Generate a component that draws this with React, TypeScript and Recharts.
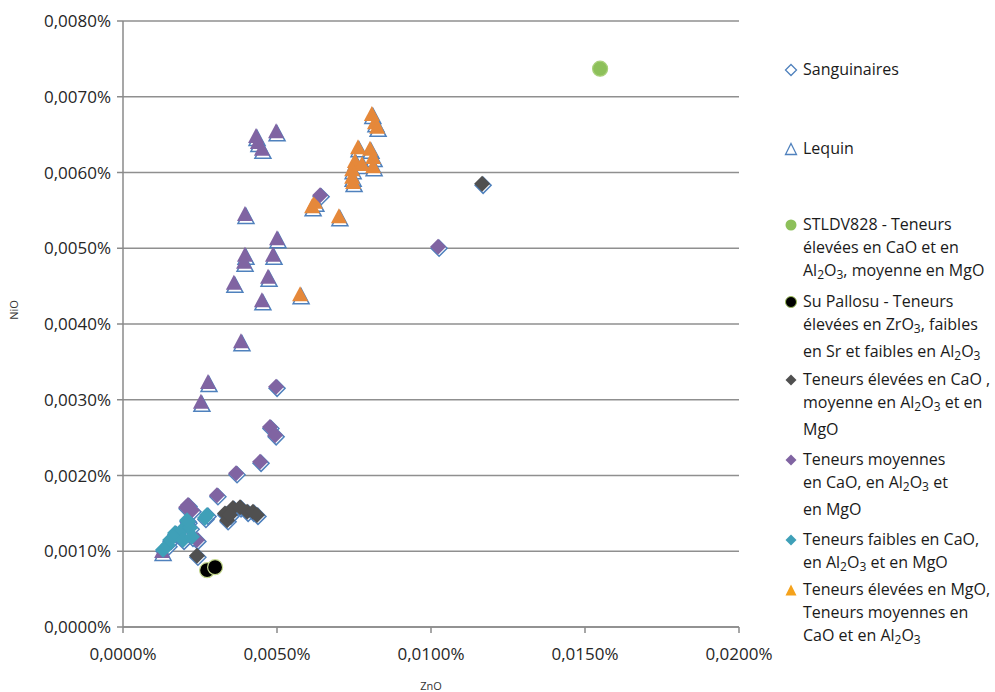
import React from 'react';
import { ScatterChart, Scatter, XAxis, YAxis, CartesianGrid } from 'recharts';

type P = { x: number; y: number };

// Values in percent (e.g. 0.0050 = 0,0050%)
const xTicks = [0, 0.005, 0.01, 0.015, 0.02];
const yTicks = [0, 0.001, 0.002, 0.003, 0.004, 0.005, 0.006, 0.007, 0.008];

const stldv828: P[] = [{ x: 0.01549, y: 0.00737 }];

const suPallosu: P[] = [
  { x: 0.00273, y: 0.00075 },
  { x: 0.00299, y: 0.00079 },
];

const grayDiamonds: P[] = [
  { x: 0.01166, y: 0.00585 },
  { x: 0.0024, y: 0.00094 },
  { x: 0.00331, y: 0.0015 },
  { x: 0.00338, y: 0.00141 },
  { x: 0.00357, y: 0.00157 },
  { x: 0.0038, y: 0.00158 },
  { x: 0.00403, y: 0.00152 },
  { x: 0.00422, y: 0.00152 },
  { x: 0.00435, y: 0.00148 },
  { x: 0.00347, y: 0.00148 },
];

const purpleDiamonds: P[] = [
  { x: 0.0064, y: 0.0057 },
  { x: 0.01023, y: 0.00502 },
  { x: 0.00497, y: 0.00317 },
  { x: 0.00477, y: 0.00264 },
  { x: 0.00494, y: 0.00253 },
  { x: 0.00445, y: 0.00218 },
  { x: 0.00367, y: 0.00203 },
  { x: 0.00305, y: 0.00174 },
  { x: 0.00211, y: 0.00161 },
  { x: 0.00224, y: 0.00154 },
  { x: 0.00205, y: 0.00158 },
  { x: 0.0024, y: 0.00115 },
];

const tealDiamonds: P[] = [
  { x: 0.0013, y: 0.00102 },
  { x: 0.00146, y: 0.00108 },
  { x: 0.00153, y: 0.00115 },
  { x: 0.00169, y: 0.00124 },
  { x: 0.00192, y: 0.00128 },
  { x: 0.00195, y: 0.00115 },
  { x: 0.00211, y: 0.00139 },
  { x: 0.00218, y: 0.00131 },
  { x: 0.00224, y: 0.00119 },
  { x: 0.00208, y: 0.00141 },
  { x: 0.00266, y: 0.00144 },
  { x: 0.00273, y: 0.00148 },
];

const purpleTriangles: P[] = [
  { x: 0.00432, y: 0.00647 },
  { x: 0.00438, y: 0.00639 },
  { x: 0.00451, y: 0.0063 },
  { x: 0.00497, y: 0.00653 },
  { x: 0.00396, y: 0.00544 },
  { x: 0.005, y: 0.00512 },
  { x: 0.00396, y: 0.0049 },
  { x: 0.00393, y: 0.00481 },
  { x: 0.00487, y: 0.0049 },
  { x: 0.0036, y: 0.00453 },
  { x: 0.00471, y: 0.00461 },
  { x: 0.00451, y: 0.0043 },
  { x: 0.00383, y: 0.00376 },
  { x: 0.00276, y: 0.00322 },
  { x: 0.00253, y: 0.00296 },
  { x: 0.00127, y: 0.00099 },
];

const orangeTriangles: P[] = [
  { x: 0.00808, y: 0.00676 },
  { x: 0.00818, y: 0.00665 },
  { x: 0.00825, y: 0.00659 },
  { x: 0.00763, y: 0.00632 },
  { x: 0.00802, y: 0.0063 },
  { x: 0.00812, y: 0.00619 },
  { x: 0.00753, y: 0.00614 },
  { x: 0.00776, y: 0.0061 },
  { x: 0.00744, y: 0.00603 },
  { x: 0.00812, y: 0.00607 },
  { x: 0.00744, y: 0.00593 },
  { x: 0.00747, y: 0.00586 },
  { x: 0.00614, y: 0.00554 },
  { x: 0.00623, y: 0.0056 },
  { x: 0.00701, y: 0.00541 },
  { x: 0.00575, y: 0.00438 },
];

const sanguinaires: P[] = [...grayDiamonds, ...purpleDiamonds, ...tealDiamonds];
const lequin: P[] = [...purpleTriangles, ...orangeTriangles];

const BLUE = '#4F81BD';
const PURPLE = '#8064A2';
const ORANGE = '#E5883A';
const GRAY = '#505050';
const TEAL = '#3FA0B8';
const GREEN = '#8DC05A';

const fmt = (v: number) => v.toFixed(4).replace('.', ',') + '%';

const diamondPath = (cx: number, cy: number, r: number) =>
  `M${cx},${cy - r}L${cx + r},${cy}L${cx},${cy + r}L${cx - r},${cy}Z`;
const trianglePath = (cx: number, cy: number, w: number, h: number) =>
  `M${cx},${cy - h * 0.6}L${cx + w / 2},${cy + h * 0.4}L${cx - w / 2},${cy + h * 0.4}Z`;

const diamond = (fill: string) => (p: any) => <path d={diamondPath(p.cx, p.cy, 8)} fill={fill} />;
const triangle = (fill: string) => (p: any) => <path d={trianglePath(p.cx, p.cy, 16, 15)} fill={fill} />;
const outlineDiamond = (p: any) => (
  <path d={diamondPath(p.cx + 1, p.cy + 1.5, 8)} fill="#fff" stroke={BLUE} strokeWidth={1.5} />
);
const outlineTriangle = (p: any) => (
  <path d={trianglePath(p.cx + 1, p.cy + 2.5, 16, 15)} fill="#fff" stroke={BLUE} strokeWidth={1.5} />
);
const circle = (fill: string, stroke: string) => (p: any) => (
  <circle cx={p.cx} cy={p.cy} r={7.5} fill={fill} stroke={stroke} strokeWidth={1.2} />
);

const legendFont = { fontFamily: '"Open Sans", sans-serif', fontSize: 16, color: '#1a1a1a', lineHeight: '23px' };

const Sym = ({ kind, color, stroke }: { kind: string; color: string; stroke?: string }) => (
  <svg width={14} height={14} style={{ position: 'absolute', left: -19, top: 5 }}>
    {kind === 'diamond' && <path d={diamondPath(7, 7, 5.5)} fill={color} stroke={stroke || 'none'} strokeWidth={1.3} />}
    {kind === 'triangle' && <path d="M7,1.5L12.5,12.5L1.5,12.5Z" fill={color} stroke={stroke || 'none'} strokeWidth={1.3} />}
    {kind === 'circle' && <circle cx={7} cy={7} r={5.5} fill={color} stroke={stroke || 'none'} />}
  </svg>
);

const subStyle = { fontSize: '0.75em', verticalAlign: '-0.25em' };
const Al = () => (
  <span>
    Al<sub style={subStyle}>2</sub>O<sub style={subStyle}>3</sub>
  </span>
);
const Zr = () => (
  <span>
    ZrO<sub style={subStyle}>3</sub>
  </span>
);

const entries: { top: number; sym: React.ReactNode; text: React.ReactNode }[] = [
  { top: 58, sym: <Sym kind="diamond" color="#fff" stroke={BLUE} />, text: <>Sanguinaires</> },
  { top: 137, sym: <Sym kind="triangle" color="#fff" stroke={BLUE} />, text: <>Lequin</> },
  {
    top: 213,
    sym: <Sym kind="circle" color={GREEN} />,
    text: (
      <>
        STLDV828 - Teneurs<br />élevées en CaO et en<br /><Al />, moyenne en MgO
      </>
    ),
  },
  {
    top: 290,
    sym: <Sym kind="circle" color="#000" stroke="#9bbb59" />,
    text: (
      <>
        Su Pallosu - Teneurs<br />élevées en <Zr />, faibles<br />en Sr et faibles en <Al />
      </>
    ),
  },
  {
    top: 368,
    sym: <Sym kind="diamond" color={GRAY} />,
    text: (
      <>
        Teneurs élevées en CaO ,<br />moyenne en <Al /> et en<br />MgO
      </>
    ),
  },
  {
    top: 448,
    sym: <Sym kind="diamond" color={PURPLE} />,
    text: (
      <>
        Teneurs moyennes<br />en CaO, en <Al /> et<br />en MgO
      </>
    ),
  },
  {
    top: 528,
    sym: <Sym kind="diamond" color={TEAL} />,
    text: (
      <>
        Teneurs faibles en CaO,<br />en <Al /> et en MgO
      </>
    ),
  },
  {
    top: 578,
    sym: <Sym kind="triangle" color="#F5A21B" />,
    text: (
      <>
        Teneurs élevées en MgO,<br />Teneurs moyennes en<br />CaO et en <Al />
      </>
    ),
  },
];

const tickStyle = { fontFamily: '"Open Sans", sans-serif', fontSize: 17, fill: '#262626' };

export default function App() {
  return (
    <div style={{ position: 'absolute', left: 0, top: 0, width: 995, height: 692, background: '#fff' }}>
      <ScatterChart width={995} height={692} margin={{ top: 21, right: 256, bottom: 0, left: 0 }}>
        <CartesianGrid vertical={false} stroke="#8f8f8f" strokeWidth={1.6} />
        <XAxis
          type="number"
          dataKey="x"
          domain={[0, 0.02]}
          ticks={xTicks}
          tickFormatter={fmt}
          height={65}
          tickSize={6}
          tickMargin={15}
          stroke="#8a8a8a"
          strokeWidth={1.5}
          tick={tickStyle}
          label={({ viewBox }: any) => (
            <text x={viewBox.x + viewBox.width / 2} y={690} textAnchor="middle" fontSize={11} fontFamily='"Open Sans", sans-serif' fill="#333">
              ZnO
            </text>
          )}
        />
        <YAxis
          type="number"
          dataKey="y"
          domain={[0, 0.008]}
          ticks={yTicks}
          tickFormatter={fmt}
          width={123}
          tickSize={6}
          tickMargin={6}
          stroke="#8a8a8a"
          strokeWidth={1.5}
          tick={tickStyle}
          label={() => (
            <text x={18} y={310} textAnchor="middle" fontSize={11} fontFamily='"Open Sans", sans-serif' fill="#333" transform="rotate(-90 18 310)">
              NiO
            </text>
          )}
        />
        <Scatter name="Sanguinaires" data={sanguinaires} shape={outlineDiamond} isAnimationActive={false} />
        <Scatter name="Lequin" data={lequin} shape={outlineTriangle} isAnimationActive={false} />
        <Scatter name="Teneurs moyennes (Lequin)" data={purpleTriangles} shape={triangle(PURPLE)} isAnimationActive={false} />
        <Scatter name="Teneurs élevées en MgO" data={orangeTriangles} shape={triangle(ORANGE)} isAnimationActive={false} />
        <Scatter name="Teneurs élevées en CaO" data={grayDiamonds} shape={diamond(GRAY)} isAnimationActive={false} />
        <Scatter name="Teneurs moyennes" data={purpleDiamonds} shape={diamond(PURPLE)} isAnimationActive={false} />
        <Scatter name="Teneurs faibles" data={tealDiamonds} shape={diamond(TEAL)} isAnimationActive={false} />
        <Scatter name="STLDV828" data={stldv828} shape={circle(GREEN, '#a9d07a')} isAnimationActive={false} />
        <Scatter name="Su Pallosu" data={suPallosu} shape={circle('#000', '#c5d98f')} isAnimationActive={false} />
      </ScatterChart>
      <div style={{ position: 'absolute', left: 803, top: 0, width: 192, ...legendFont }}>
        {entries.map((e, i) => (
          <div key={i} style={{ position: 'absolute', top: e.top, left: 0, whiteSpace: 'nowrap' }}>
            {e.sym}
            {e.text}
          </div>
        ))}
      </div>
    </div>
  );
}
